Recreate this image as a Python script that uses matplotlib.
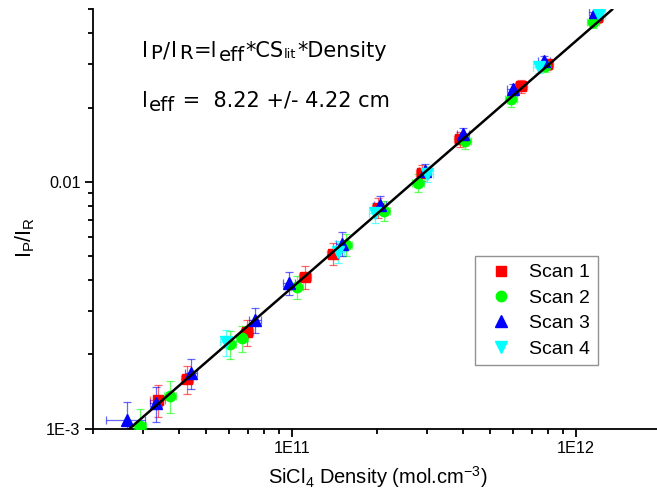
import numpy as np
import matplotlib
matplotlib.use("Agg")
import matplotlib.pyplot as plt
from matplotlib.lines import Line2D

plt.rcParams["font.family"] = ["Liberation Sans", "DejaVu Sans"]

# ---- data ----
scan1_x = [3.385e10, 4.28e10, 6.96e10, 1.114e11, 1.398e11, 2.012e11, 2.873e11, 3.908e11, 6.407e11, 7.91e11, 1.185e12]
scan1_y = [1.307e-3, 1.591e-3, 2.468e-3, 4.127e-3, 5.117e-3, 7.863e-3, 1.091e-2, 1.485e-2, 2.436e-2, 2.993e-2, 4.643e-2]
scan1_yerr = [0.15, 0.13, 0.12, 0.11, 0.10, 0.09, 0.075, 0.07, 0.06, 0.055, 0.05]   # relative
scan1_xerr = [0.06, 0.05, 0.05, 0.05, 0.05, 0.05, 0.05, 0.05, 0.05, 0.05, 0.05]

scan2_x = [2.93e10, 3.73e10, 6.07e10, 6.69e10, 1.044e11, 1.552e11, 2.112e11, 2.782e11, 4.07e11, 5.907e11, 7.78e11, 1.148e12]
scan2_y = [1.026e-3, 1.357e-3, 2.206e-3, 2.333e-3, 3.76e-3, 5.564e-3, 7.646e-3, 9.93e-3, 1.457e-2, 2.158e-2, 2.937e-2, 4.431e-2]
scan2_yerr = [0.17, 0.15, 0.13, 0.12, 0.11, 0.10, 0.09, 0.085, 0.07, 0.065, 0.055, 0.05]
scan2_xerr = [0.05, 0.05, 0.05, 0.05, 0.05, 0.05, 0.05, 0.05, 0.05, 0.05, 0.05, 0.05]

scan3_x = [2.635e10, 3.33e10, 4.42e10, 7.43e10, 9.78e10, 1.503e11, 2.045e11, 2.944e11, 4.005e11, 6.003e11, 7.72e11, 1.166e12]
scan3_y = [1.085e-3, 1.271e-3, 1.683e-3, 2.762e-3, 3.90e-3, 5.617e-3, 8.09e-3, 1.111e-2, 1.556e-2, 2.369e-2, 3.077e-2, 4.865e-2]
scan3_yerr = [0.18, 0.16, 0.14, 0.12, 0.11, 0.11, 0.085, 0.065, 0.065, 0.055, 0.05, 0.045]
scan3_xerr = [0.16, 0.05, 0.05, 0.05, 0.05, 0.05, 0.05, 0.05, 0.05, 0.05, 0.05, 0.05]

scan4_x = [5.87e10, 1.455e11, 1.963e11, 2.992e11, 7.41e11, 1.205e12]
scan4_y = [2.248e-3, 5.214e-3, 7.504e-3, 1.08e-2, 2.911e-2, 4.73e-2]
scan4_yerr = [0.12, 0.10, 0.09, 0.075, 0.055, 0.05]
scan4_xerr = [0.05, 0.05, 0.05, 0.05, 0.05, 0.05]

fit_slope = 3.72e-14   # I_P/I_R = slope * density
fit_x = np.array([2.0e10, 1.34e12])

scans = [
    ("Scan 1", scan1_x, scan1_y, scan1_xerr, scan1_yerr, "#ff0000", "s", 6.5),
    ("Scan 2", scan2_x, scan2_y, scan2_xerr, scan2_yerr, "#00ff00", "o", 7.5),
    ("Scan 3", scan3_x, scan3_y, scan3_xerr, scan3_yerr, "#0000ff", "^", 8),
    ("Scan 4", scan4_x, scan4_y, scan4_xerr, scan4_yerr, "#00ffff", "v", 8),
]

W, H = 657, 500
fig = plt.figure(figsize=(W / 100, H / 100), dpi=100)
ax = fig.add_axes([93 / W, 1 - 428.7 / H, (661.5 - 93) / W, (428.7 - 9.3) / H])

handles = []
for name, xs, ys, xe, ye, col, mk, ms in scans:
    xs = np.array(xs)
    ys = np.array(ys)
    eb = ax.errorbar(xs, ys, xerr=xs * np.array(xe), yerr=ys * np.array(ye), fmt=mk, color=col,
                     ms=ms, mec=col, ecolor=col, elinewidth=0.9, capsize=3.2, capthick=0.9,
                     zorder=3)
    for l in eb[2]:
        l.set_alpha(0.6)
    for c in eb[1]:
        c.set_alpha(0.6)
    handles.append(Line2D([], [], ls="none", marker=mk, color=col, ms=ms, label=name))

ax.plot(fit_x, fit_slope * fit_x, color="black", lw=1.8, zorder=4)

ax.set_xscale("log")
ax.set_yscale("log")
ax.set_xlim(2e10, 2e12)
ax.set_ylim(1e-3, 0.05)

ax.spines["top"].set_visible(False)
ax.spines["right"].set_visible(False)
ax.spines["left"].set_linewidth(1.3)
ax.spines["bottom"].set_linewidth(1.3)

ax.set_xticks([1e11, 1e12])
ax.set_xticklabels(["1E11", "1E12"])
ax.set_yticks([1e-3, 1e-2])
ax.set_yticklabels(["1E-3", "0.01"])
ax.tick_params(which="major", direction="out", length=6, width=1.3, labelsize=11.7, pad=3)
ax.tick_params(which="minor", direction="out", length=3.5, width=1.3)

ax.set_xlabel(r"SiCl$_\mathregular{4}$ Density (mol.cm$^\mathregular{-3}$)", fontsize=14.5, labelpad=6)
ax.set_ylabel(r"I$_\mathregular{P}$/I$_\mathregular{R}$", fontsize=15.5)
ax.yaxis.set_label_coords(-0.098, 0.455)


# annotation with Origin-style subscripts: pieces placed one after another
# (text, size factor, drop below baseline in px, extra gap after in px)
def rich_text(x0, base, pieces, size):
    renderer = fig.canvas.get_renderer()
    x = x0
    for s, scale, dy, gap in pieces:
        t = fig.text(x / W, 1 - (base + dy) / H, s, fontsize=size * scale,
                     family="DejaVu Sans", va="baseline")
        x += t.get_window_extent(renderer).width + gap


rich_text(142, 57.3, [("I", 1, 0, 2), ("P", 0.95, 2, 1), ("/", 1, 0, 1.5), ("I", 1, 0, 2),
                      ("R", 0.95, 2, 1), ("=l", 1, 0, 1), ("eff", 0.95, 4, 0.5),
                      ("*CS", 1, 0, 1), ("lit", 0.62, 0.5, 0.5), ("*Density", 1, 0, 0)], 15)
rich_text(142, 107, [("l", 1, 0, 1), ("eff", 0.95, 4, 0.5), (" =  8.22 +/- 4.22 cm", 1, 0, 0)], 15)

leg = ax.legend(handles=handles, loc="upper left",
                bbox_to_anchor=((475 - 93) / (661.5 - 93), (428.7 - 256) / (428.7 - 9.3)),
                fontsize=14, frameon=True, fancybox=False, borderpad=0.4,
                labelspacing=0.4, handletextpad=0.5, handlelength=1.9, borderaxespad=0)
leg.get_frame().set_edgecolor("#777777")
leg.get_frame().set_linewidth(1.0)

fig.savefig("out.png", dpi=100)
